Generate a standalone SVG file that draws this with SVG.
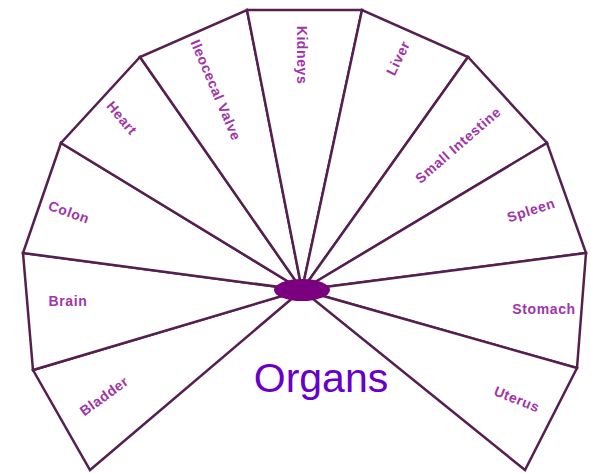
<svg xmlns="http://www.w3.org/2000/svg" width="591" height="473" viewBox="0 0 591 473">
<style>
.w{fill:#ffffff;stroke:#55204f;stroke-width:2.5;stroke-linejoin:miter}
.l{font-family:"Liberation Sans",Arial,sans-serif;font-weight:bold;font-size:14px;letter-spacing:0.6px;fill:#a035a8;text-anchor:middle;dominant-baseline:central}
</style>
<rect width="591" height="473" fill="#ffffff"/>
<g id="wedges">
<g id="bladder"><polygon class="w" points="302,290 90,470 33,370"/><text class="l" transform="translate(104,396) rotate(-36)">Bladder</text></g>
<g id="brain"><polygon class="w" points="302,290 33,370 23,253"/><text class="l" transform="translate(68,301)">Brain</text></g>
<g id="colon"><polygon class="w" points="302,290 23,253 61,143"/><text class="l" transform="translate(69,212) rotate(20)">Colon</text></g>
<g id="heart"><polygon class="w" points="302,290 61,143 140,57"/><text class="l" transform="translate(122,118) rotate(50)">Heart</text></g>
<g id="ileocecal"><polygon class="w" points="302,290 140,57 247,10"/><text class="l" transform="translate(216,90) rotate(67)">Ileocecal Valve</text></g>
<g id="kidneys"><polygon class="w" points="302,290 247,10 362,10"/><text class="l" transform="translate(302,55) rotate(90)">Kidneys</text></g>
<g id="liver"><polygon class="w" points="302,290 362,10 468,57"/><text class="l" transform="translate(398,58) rotate(-64)">Liver</text></g>
<g id="smallintestine"><polygon class="w" points="302,290 468,57 547,143"/><text class="l" transform="translate(458,145) rotate(-41)">Small Intestine</text></g>
<g id="spleen"><polygon class="w" points="302,290 547,143 586,253"/><text class="l" transform="translate(531,210) rotate(-18)">Spleen</text></g>
<g id="stomach"><polygon class="w" points="302,290 586,253 577,368"/><text class="l" transform="translate(544,309)">Stomach</text></g>
<g id="uterus"><polygon class="w" points="302,290 577,368 525,470"/><text class="l" transform="translate(517,399) rotate(22)">Uterus</text></g>
</g>
<g id="center"><ellipse cx="302" cy="290" rx="28" ry="11" fill="#7a0080"/></g>
<g id="organs"><text x="321" y="392" font-family="Liberation Sans,Arial,sans-serif" font-size="41" fill="#6a00c8" text-anchor="middle">Organs</text></g>
</svg>
